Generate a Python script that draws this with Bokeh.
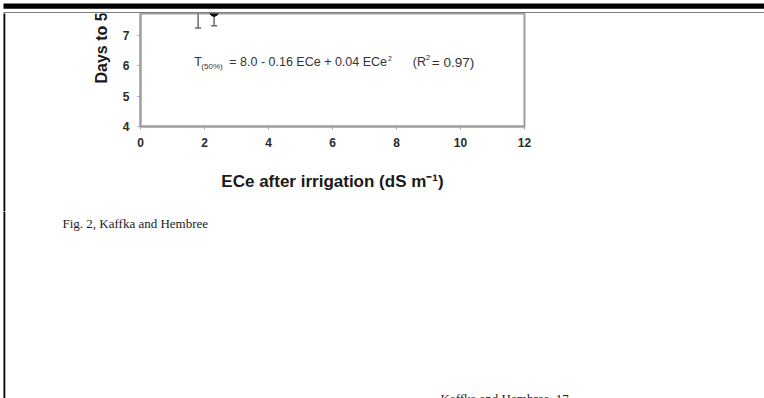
import math
from bokeh.plotting import figure
from bokeh.layouts import column, row
from bokeh.models import Range1d, FixedTicker
from bokeh.core.properties import value
from bokeh.embed import file_html
from bokeh.resources import INLINE

# ---- data ----
ece = [1.8, 2.3]                 # ECe after irrigation (dS m-1)
days = [7.95, 7.76]              # days to 50% emergence (means)
days_lower = [7.23, 7.30]        # lower end of error bars
days_upper = [8.67, 8.22]        # upper end of error bars
x_ticks = [0, 2, 4, 6, 8, 10, 12]
y_ticks = [4, 5, 6, 7]
x_title = "ECe after irrigation (dS m\u207b\u00b9)"
y_title = "Days to 50% emergence"
equation_parts = ["T", "(50%)", "= 8.0 - 0.16 ECe + 0.04 ECe", "2", "(R", "2", "= 0.97)"]
caption = "Fig. 2, Kaffka and Hembree"
running_head = "Kaffka and Hembree, 17"

W, H = 764, 398
TOP_H = 13            # strip holding the page rules
MID_H = 198           # strip holding the chart
BOT_H = H - TOP_H - MID_H
LEFT_W = 119          # strip left of the chart (y title)
AX = "#9d9d9d"
SANS = "Liberation Sans"
SERIF = "Liberation Serif"


def strip(w, h):
    f = figure(width=w, height=h, output_backend="svg", toolbar_location=None,
               x_range=Range1d(0, w), y_range=Range1d(0, h),
               x_axis_location=None, y_axis_location=None, min_border=0)
    f.frame_align = False
    f.outline_line_color = None
    f.grid.visible = False
    f.background_fill_color = "white"
    f.border_fill_color = "white"
    return f


def text(f, h, s, px, py, size, font=SANS, style="normal", align="left",
         base="middle", angle=0.0, color="#2a2a2a"):
    f.text(x=[px], y=[h - py], text=[s], angle=angle, text_font=value(font),
           text_font_style=style, text_font_size=f"{size}px", text_align=align,
           text_baseline=base, text_color=color)


# ---- top strip: heavy rule and thin rule of the page ----
ft = strip(W, TOP_H)
ft.quad(left=[3, 3], right=[W + 2, W + 2], top=[TOP_H - 3, TOP_H - 12],
        bottom=[TOP_H - 8.3, TOP_H - 15], fill_color="black", line_color=None)

# ---- left strip: page border line and y title ----
fl = strip(LEFT_W, MID_H)
fl.quad(left=[3], right=[4.8], top=[MID_H + 3], bottom=[-3], fill_color="black", line_color=None)
text(fl, MID_H, y_title, 101, 83 - TOP_H, 16, style="bold", base="alphabetic",
     angle=math.pi / 2, color="#1a1a1a")

# ---- chart ----
p = figure(width=W - LEFT_W, height=MID_H, output_backend="svg", toolbar_location=None,
           x_range=Range1d(0, 12), y_range=Range1d(4, 7.705),
           min_border_left=139 - LEFT_W, min_border_right=W - 524,
           min_border_top=0, min_border_bottom=MID_H - (126 - TOP_H))
p.frame_align = False
p.background_fill_color = "white"
p.border_fill_color = "white"
p.grid.visible = False
p.outline_line_color = AX
p.outline_line_width = 2

for ax in (p.xaxis[0], p.yaxis[0]):
    ax.axis_line_color = AX
    ax.axis_line_width = 2
    ax.major_tick_line_color = AX
    ax.major_tick_line_width = 1
    ax.major_tick_out = 3
    ax.major_tick_in = 0
    ax.minor_tick_line_color = None
    ax.major_label_text_font = SANS
    ax.major_label_text_font_style = "bold"
    ax.major_label_text_font_size = "12px"
    ax.major_label_text_color = "#2a2a2a"

p.xaxis.ticker = FixedTicker(ticks=x_ticks)
p.yaxis.ticker = FixedTicker(ticks=y_ticks)
p.xaxis.major_label_standoff = 8
p.yaxis.major_label_standoff = 8
p.xaxis.axis_label = x_title
p.xaxis.axis_label_text_font = SANS
p.xaxis.axis_label_text_font_style = "bold"
p.xaxis.axis_label_text_font_size = "17px"
p.xaxis.axis_label_text_color = "#1a1a1a"
p.xaxis.axis_label_standoff = 22

p.segment(x0=ece, y0=days_lower, x1=ece, y1=days_upper, line_color="#6a6a6a", line_width=1.5)
p.scatter(x=ece, y=days_lower, marker="dash", size=6, line_color="#6a6a6a", line_width=1.5)
p.scatter(x=ece, y=days_upper, marker="dash", size=6, line_color="#6a6a6a", line_width=1.5)
p.scatter(x=ece, y=days, marker="circle", size=9, fill_color="#111111", line_color="#111111")

# regression equation, placed by page pixels through the chart's scales
def eq(s, px, py, size):
    p.text(x=[(px - 139) / 32.08], y=[4 + (126 - py) / 30.5], text=[s],
           text_font=value(SANS), text_font_size=f"{size}px", text_align="left",
           text_baseline="middle", text_color="#333333")

eq(equation_parts[0], 193, 61.5, 12.5)
eq(equation_parts[1], 200, 65.5, 8)
eq(equation_parts[2], 228, 61.5, 12.5)
eq(equation_parts[3], 387, 57.5, 7)
eq(equation_parts[4], 412, 61.5, 12.5)
eq(equation_parts[5], 425, 57, 8)
eq(equation_parts[6], 431, 61.5, 13.5)

# ---- bottom strip: border line, caption, running head ----
top0 = TOP_H + MID_H
fb = strip(W, BOT_H)
fb.quad(left=[3], right=[4.8], top=[BOT_H + 3], bottom=[-3], fill_color="black", line_color=None)
text(fb, BOT_H, caption, 62, 222.5 - top0, 13, font=SERIF, base="alphabetic", color="#222222")
text(fb, BOT_H, running_head, 440, 390 - top0, 13, font=SERIF, base="top", color="#222222")

layout = column(ft, row(fl, p), fb)
open("out.html", "w").write(file_html(layout, INLINE))
